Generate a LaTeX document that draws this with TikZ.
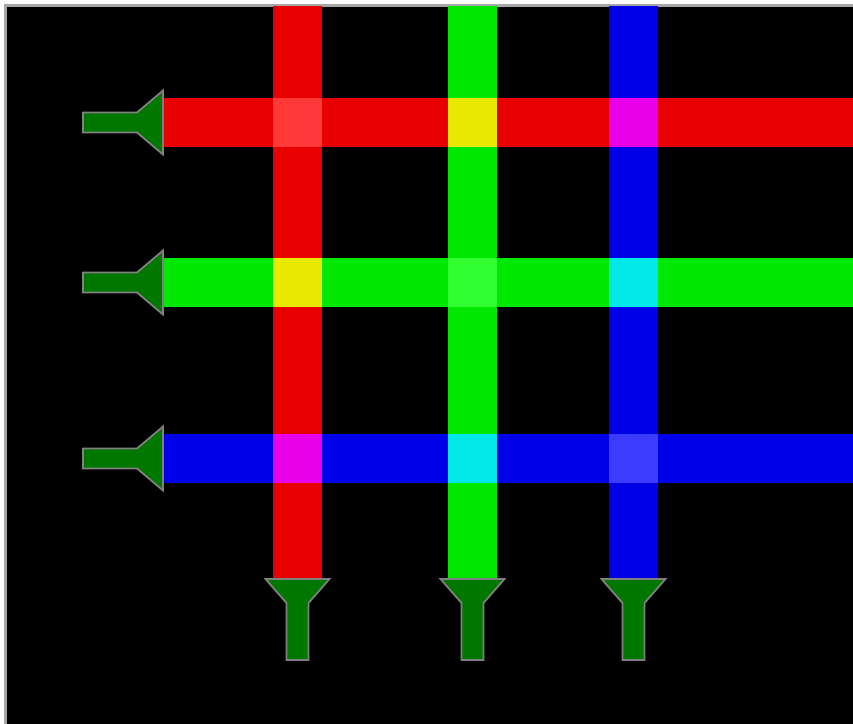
\documentclass[tikz,border=0pt]{standalone}
\usepackage{xcolor}
\usepackage{tikz}
\definecolor{barRed}{HTML}{E80000}
\definecolor{barGreen}{HTML}{00E800}
\definecolor{barBlue}{HTML}{0000E8}
\definecolor{mixRR}{HTML}{FF3838}
\definecolor{mixGG}{HTML}{30FF30}
\definecolor{mixBB}{HTML}{3C3CFF}
\definecolor{mixRG}{HTML}{E8E800}
\definecolor{mixRB}{HTML}{E800E8}
\definecolor{mixGB}{HTML}{00E8E8}
\definecolor{funGreen}{HTML}{007800}
\tikzset{funnel/.style={fill=funGreen,draw=gray,line width=0.5pt,line join=miter}}
\begin{document}
\begin{tikzpicture}[x=0.01cm,y=-0.01cm]
\useasboundingbox (0,0) rectangle (853,724);
\fill[white] (0,0) rectangle (853,724);
\fill[black] (6,6) rectangle (853,724);
\draw[gray!70,line width=0.6pt] (5.5,724) -- (5.5,5.5) -- (853,5.5);
\def\hw{24.5}
% rows and columns
\foreach \y/\c in {122.5/barRed,282.5/barGreen,458.5/barBlue}{\fill[\c] (163,\y-\hw) rectangle (853,\y+\hw);}
\foreach \x/\c in {297.5/barRed,472.5/barGreen,633.5/barBlue}{\fill[\c] (\x-\hw,6) rectangle (\x+\hw,579);}
% crossings
\foreach \x/\y/\c in {297.5/122.5/mixRR,472.5/122.5/mixRG,633.5/122.5/mixRB,
  297.5/282.5/mixRG,472.5/282.5/mixGG,633.5/282.5/mixGB,
  297.5/458.5/mixRB,472.5/458.5/mixGB,633.5/458.5/mixBB}{\fill[\c] (\x-\hw,\y-\hw) rectangle (\x+\hw,\y+\hw);}
% funnels
\foreach \y in {122.5,282.5,458.5}{\draw[funnel] (163,\y-32) -- (137,\y-10) -- (83,\y-10) -- (83,\y+10) -- (137,\y+10) -- (163,\y+32) -- cycle;}
\foreach \x in {297.5,472.5,633.5}{\draw[funnel] (\x-32,579) -- (\x-11,603) -- (\x-11,660) -- (\x+11,660) -- (\x+11,603) -- (\x+32,579) -- cycle;}
\end{tikzpicture}
\end{document}
